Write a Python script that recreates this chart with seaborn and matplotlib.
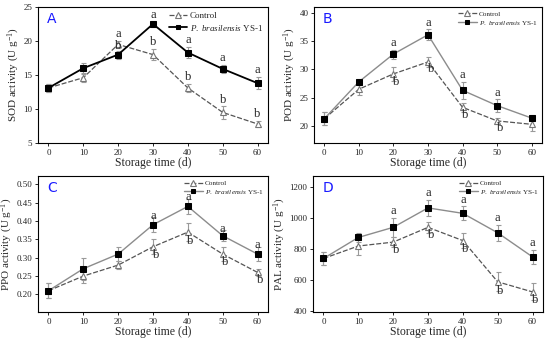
import numpy as np
import pandas as pd
import matplotlib
matplotlib.use("Agg")
import matplotlib.pyplot as plt
import seaborn as sns

sns.set_theme(style="ticks")
plt.rcParams['font.family'] = ['Liberation Serif', 'DejaVu Serif']
plt.rcParams['mathtext.fontset'] = 'custom'
plt.rcParams['mathtext.it'] = 'Liberation Serif:italic'
plt.rcParams['mathtext.rm'] = 'Liberation Serif'

days = [0, 10, 20, 30, 40, 50, 60]

# SOD
sod_ctrl = [13.1, 14.6, 19.5, 18.0, 13.1, 9.5, 7.8]
sod_ctrl_err = [0.6, 0.7, 0.5, 0.8, 0.6, 0.9, 0.5]
sod_ys = [13.1, 16.0, 18.0, 22.5, 18.3, 15.9, 13.8]
sod_ys_err = [0.6, 0.8, 0.6, 0.4, 0.8, 0.6, 0.9]

# POD
pod_ctrl = [21.3, 26.5, 29.2, 31.3, 23.3, 20.9, 20.3]
pod_ctrl_err = [1.1, 1.0, 1.2, 0.9, 0.8, 0.6, 1.1]
pod_ys = [21.3, 27.8, 32.7, 36.1, 26.3, 23.6, 21.4]
pod_ys_err = [1.1, 0.5, 0.8, 1.0, 1.5, 1.1, 0.6]

# PPO
ppo_ctrl = [0.21, 0.25, 0.28, 0.33, 0.37, 0.31, 0.26]
ppo_ctrl_err = [0.02, 0.02, 0.01, 0.02, 0.025, 0.02, 0.01]
ppo_ys = [0.21, 0.27, 0.31, 0.39, 0.44, 0.36, 0.31]
ppo_ys_err = [0.02, 0.03, 0.02, 0.02, 0.02, 0.015, 0.02]

# PAL
pal_ctrl = [740, 820, 845, 940, 855, 590, 525]
pal_ctrl_err = [40, 55, 30, 35, 50, 60, 55]
pal_ys = [740, 875, 940, 1065, 1030, 905, 750]
pal_ys_err = [40, 30, 60, 50, 45, 50, 45]

panels = [
    dict(tag='A', ylabel='SOD activity (U g$^{-1}$)', ctrl=sod_ctrl, ce=sod_ctrl_err,
         ys=sod_ys, ye=sod_ys_err, ylim=(5, 25), yticks=[5, 10, 15, 20, 25], fmt='{:.0f}',
         ys_color='black', ys_lw=1.3, letters=[2, 3, 4, 5, 6], b_below=False, pad=0.1,
         leg_fs=6.5, hl=2.0),
    dict(tag='B', ylabel='POD activity (U g$^{-1}$)', ctrl=pod_ctrl, ce=pod_ctrl_err,
         ys=pod_ys, ye=pod_ys_err, ylim=(17, 41), yticks=[20, 25, 30, 35, 40], fmt='{:.0f}',
         ys_color='#8c8c8c', ys_lw=1.0, letters=[2, 3, 4, 5], b_below=True, pad=0.1,
         leg_fs=5.2, hl=2.6),
    dict(tag='C', ylabel='PPO activity (U g$^{-1}$)', ctrl=ppo_ctrl, ce=ppo_ctrl_err,
         ys=ppo_ys, ye=ppo_ys_err, ylim=(0.152, 0.523),
         yticks=[0.20, 0.25, 0.30, 0.35, 0.40, 0.45, 0.50], fmt='{:.2f}',
         ys_color='#8c8c8c', ys_lw=1.0, letters=[3, 4, 5, 6], b_below=True, pad=-0.012,
         leg_fs=5.2, hl=2.6),
    dict(tag='D', ylabel='PAL activity (U g$^{-1}$)', ctrl=pal_ctrl, ce=pal_ctrl_err,
         ys=pal_ys, ye=pal_ys_err, ylim=(396, 1270), yticks=[400, 600, 800, 1000, 1200],
         fmt='{:.0f}', ys_color='#8c8c8c', ys_lw=1.0, letters=[2, 3, 4, 5, 6],
         b_below=True, pad=5, leg_fs=5.2, hl=2.6),
]

fig = plt.figure(figsize=(5.5, 3.38), dpi=100)
boxes = [(38, 7, 268, 143), (314, 7, 542, 143), (38, 176, 268, 312), (313, 176, 543, 312)]
W, H = 550, 338

for p, (l, t, r, b) in zip(panels, boxes):
    ax = fig.add_axes([l / W, 1 - b / H, (r - l) / W, (b - t) / H])
    df = pd.DataFrame({'day': days * 2,
                       'value': p['ctrl'] + p['ys'],
                       'group': ['Control'] * 7 + ['YS-1'] * 7})
    ctrl = df[df.group == 'Control']
    ysd = df[df.group == 'YS-1']

    ax.errorbar(days, p['ctrl'], yerr=p['ce'], fmt='none', ecolor='#9a9a9a',
                elinewidth=0.8, capsize=1.8, capthick=0.8, zorder=2)
    ax.errorbar(days, p['ys'], yerr=p['ye'], fmt='none', ecolor='#9a9a9a',
                elinewidth=0.8, capsize=1.8, capthick=0.8, zorder=2)
    sns.lineplot(data=ctrl, x='day', y='value', ax=ax, color='#555555', lw=0.9,
                 linestyle=(0, (4, 1.5)), marker='^', markersize=4.5,
                 markerfacecolor='white', markeredgecolor='#777777', markeredgewidth=0.8,
                 label='Control', zorder=3)
    sns.lineplot(data=ysd, x='day', y='value', ax=ax, color=p['ys_color'], lw=p['ys_lw'],
                 marker='s', markersize=4, markerfacecolor='black', markeredgecolor='black',
                 label='$\\it{P.\\ brasilensis}$ YS-1', zorder=4)

    for i in p['letters']:
        top_ys = p['ys'][i] + p['ye'][i]
        if p['b_below']:
            ax.text(days[i], top_ys + p['pad'], 'a', ha='center', va='bottom', fontsize=9)
            yb = p['ctrl'][i] - p['ce'][i] * 0.3
            ax.text(days[i] + 0.8, yb, 'b', ha='center', va='top', fontsize=9)
        elif p['ctrl'][i] > p['ys'][i]:
            # control is higher here: 'a' over control, 'b' tucked under it
            ax.text(days[i], p['ctrl'][i] + p['ce'][i] + 0.1, 'a', ha='center',
                    va='bottom', fontsize=9)
            ax.text(days[i], p['ys'][i] + p['ye'][i] - 0.2, 'b', ha='center',
                    va='bottom', fontsize=9)
        else:
            ax.text(days[i], top_ys + p['pad'], 'a', ha='center', va='bottom', fontsize=9)
            ax.text(days[i], p['ctrl'][i] + p['ce'][i] + p['pad'], 'b',
                    ha='center', va='bottom', fontsize=9)

    ax.set_xlim(-3, 63)
    ax.set_xticks(days)
    ax.set_ylim(*p['ylim'])
    ax.set_yticks(p['yticks'])
    ax.set_yticklabels([p['fmt'].format(v) for v in p['yticks']])
    ax.tick_params(labelsize=6.5, length=2.5, width=0.7, pad=1.5, direction='out')
    ax.set_xlabel('Storage time (d)', fontsize=8.5, labelpad=0)
    ax.set_ylabel(p['ylabel'], fontsize=8, labelpad=1)
    for s in ax.spines.values():
        s.set_linewidth(0.8)
        s.set_color('black')
    ax.text(0.04, 0.88, p['tag'], transform=ax.transAxes, color='#1a1aff',
            fontsize=10, family='DejaVu Sans')
    ax.legend(loc='upper right', frameon=False, fontsize=p['leg_fs'], handlelength=p['hl'],
              markerscale=0.85, borderaxespad=0.15, labelspacing=0.25, handletextpad=0.3)

fig.savefig('out.png', dpi=100)
